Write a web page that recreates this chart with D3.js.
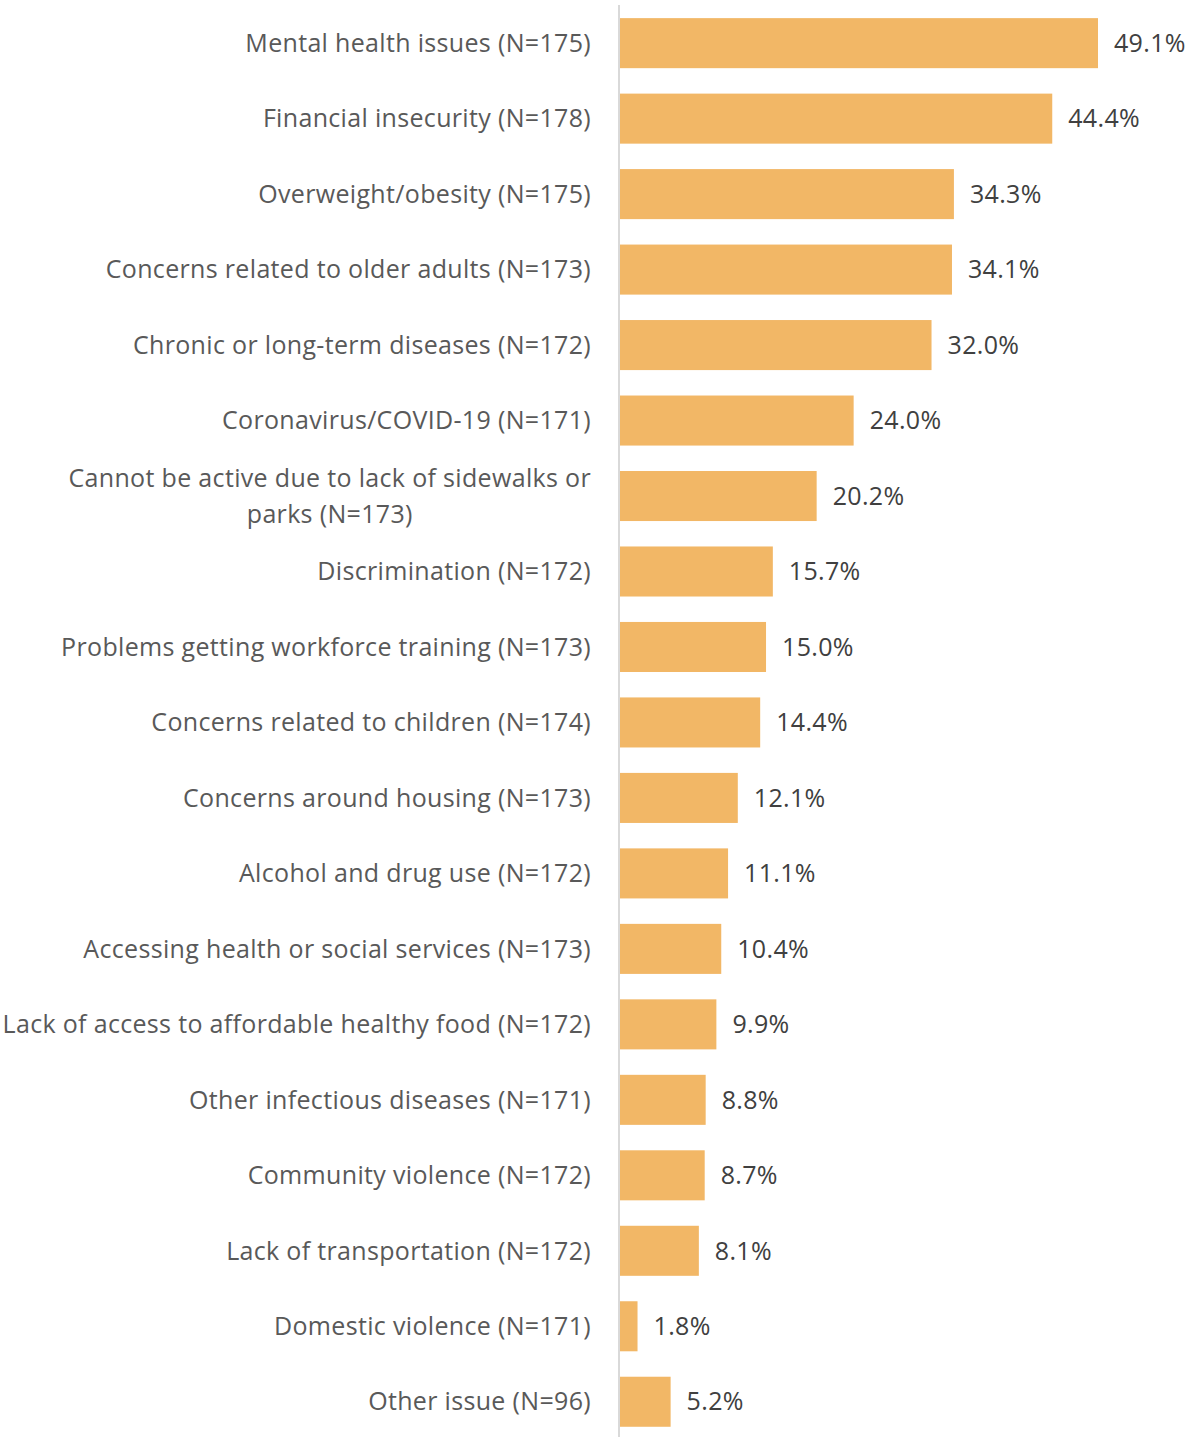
<!DOCTYPE html>
<html>
<head>
<meta charset="utf-8">
<script src="https://cdn.jsdelivr.net/npm/d3@7"></script>
<style>
  html, body { margin: 0; padding: 0; background: #fff; }
  svg { display: block; }
</style>
</head>
<body>
<svg id="chart" width="1188" height="1437"></svg>
<script>
// Issue categories (top to bottom) with respondent counts and shares (%)
const categories = [
  "Mental health issues (N=175)",
  "Financial insecurity (N=178)",
  "Overweight/obesity (N=175)",
  "Concerns related to older adults (N=173)",
  "Chronic or long-term diseases (N=172)",
  "Coronavirus/COVID-19 (N=171)",
  "Cannot be active due to lack of sidewalks or parks (N=173)",
  "Discrimination (N=172)",
  "Problems getting workforce training (N=173)",
  "Concerns related to children (N=174)",
  "Concerns around housing (N=173)",
  "Alcohol and drug use (N=172)",
  "Accessing health or social services (N=173)",
  "Lack of access to affordable healthy food (N=172)",
  "Other infectious diseases (N=171)",
  "Community violence (N=172)",
  "Lack of transportation (N=172)",
  "Domestic violence (N=171)",
  "Other issue (N=96)"
];
const values = [49.1, 44.4, 34.3, 34.1, 32.0, 24.0, 20.2, 15.7, 15.0, 14.4, 12.1, 11.1, 10.4, 9.9, 8.8, 8.7, 8.1, 1.8, 5.2];
// Long labels broken onto two lines
const labelLines = {
  "Cannot be active due to lack of sidewalks or parks (N=173)": ["Cannot be active due to lack of sidewalks or", "parks (N=173)"]
};

const svg = d3.select("#chart");
const font = "'Open Sans', 'Noto Sans', sans-serif";
const fontSize = 25;
const spacing = "0.33px";

const x0 = 620;
const x = d3.scaleLinear().domain([0, 49.1]).range([x0, 1098]);
const y = d3.scaleBand()
  .domain(categories)
  .range([5.3, 1439.6])
  .paddingInner(0.337)
  .paddingOuter(0.17);

const data = categories.map((c, i) => ({ cat: c, v: values[i] }));

// Bars
svg.append("g").selectAll("rect")
  .data(data)
  .join("rect")
  .attr("x", x(0))
  .attr("y", d => y(d.cat))
  .attr("width", d => x(d.v) - x(0))
  .attr("height", y.bandwidth())
  .attr("fill", "#F2B766");

// Category axis line
svg.append("line")
  .attr("x1", 619).attr("x2", 619)
  .attr("y1", 5).attr("y2", 1437)
  .attr("stroke", "#d9d9d9")
  .attr("stroke-width", 2);

// Value labels
svg.append("g").selectAll("text")
  .data(data)
  .join("text")
  .attr("x", d => x(d.v) + 16)
  .attr("y", d => y(d.cat) + y.bandwidth() / 2)
  .attr("dy", "0.35em")
  .attr("font-family", font)
  .attr("font-size", fontSize)
  .attr("letter-spacing", spacing)
  .attr("fill", "#404040")
  .text(d => d.v.toFixed(1) + "%");

// Category labels
const labelRight = 591;
const lg = svg.append("g");
data.forEach(d => {
  const cy = y(d.cat) + y.bandwidth() / 2;
  const lines = labelLines[d.cat];
  if (!lines) {
    lg.append("text")
      .attr("x", labelRight)
      .attr("y", cy)
      .attr("dy", "0.35em")
      .attr("text-anchor", "end")
      .attr("font-family", font)
      .attr("font-size", fontSize)
      .attr("letter-spacing", spacing)
      .attr("fill", "#595959")
      .text(d.cat);
  } else {
    const t = lg.append("text")
      .attr("font-family", font)
      .attr("font-size", fontSize)
      .attr("letter-spacing", spacing)
      .attr("fill", "#595959")
      .attr("text-anchor", "middle");
    const lh = 36;
    const spans = lines.map((l, i) => t.append("tspan").text(l)
      .attr("y", cy + (i - (lines.length - 1) / 2) * lh)
      .attr("dy", "0.35em"));
    const maxW = d3.max(spans, s => s.node().getComputedTextLength());
    spans.forEach(s => s.attr("x", labelRight - maxW / 2));
  }
});
</script>
</body>
</html>
